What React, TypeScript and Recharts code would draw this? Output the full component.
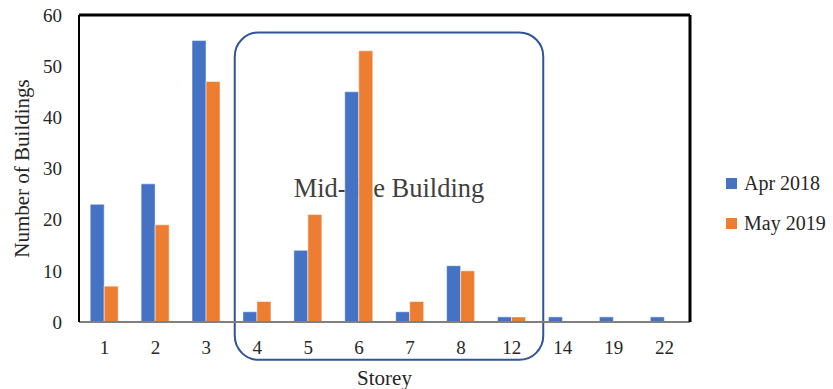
import { Bar, BarChart, Legend, ReferenceArea, XAxis, YAxis } from 'recharts';

// Number of buildings per storey count, two survey dates
const storeys = ['1', '2', '3', '4', '5', '6', '7', '8', '12', '14', '19', '22'];
const apr2018 = [23, 27, 55, 2, 14, 45, 2, 11, 1, 1, 1, 1];
const may2019 = [7, 19, 47, 4, 21, 53, 4, 10, 1, 0, 0, 0];
const yTicks = [0, 10, 20, 30, 40, 50, 60];

const SERIES = [
    { key: 'apr', name: 'Apr 2018', color: '#4472C4' },
    { key: 'may', name: 'May 2019', color: '#ED7D31' },
];

const FONT = '"Liberation Serif", "Times New Roman", serif';
const TEXT = '#262626';

const data = storeys.map((s, i) => ({ storey: s, apr: apr2018[i], may: may2019[i] }));

function MidRiseBox(props: any) {
    const { x, y, width, height } = props;
    const left = x + 3;
    const w = width + 3;
    return (
        <g>
            <rect
                x={left}
                y={y}
                width={w}
                height={height}
                rx={24}
                ry={24}
                fill="none"
                stroke="#2F5597"
                strokeWidth={2}
            />
            <text
                x={left + w / 2}
                y={y + 165}
                textAnchor="middle"
                fontFamily={FONT}
                fontSize={26.5}
                fill="#404040"
            >
                Mid-rise Building
            </text>
        </g>
    );
}

function SeriesLegend() {
    return (
        <div style={{ fontFamily: FONT, fontSize: 20, color: TEXT }}>
            {SERIES.map((s) => (
                <div key={s.key} style={{ display: 'flex', alignItems: 'center', height: 40 }}>
                    <span style={{ display: 'inline-block', width: 11, height: 11, background: s.color, marginRight: 7 }} />
                    <span>{s.name}</span>
                </div>
            ))}
        </div>
    );
}

export default function App() {
    return (
        <div style={{ position: 'absolute', left: 0, top: 0, width: 833, height: 389, background: '#fff' }}>
            <BarChart
                width={833}
                height={389}
                data={data}
                margin={{ top: 14, right: 142, bottom: 0, left: 0 }}
                barCategoryGap="22%"
                barGap={0}
            >
                <XAxis
                    dataKey="storey"
                    tickLine={false}
                    tickSize={6}
                    tickMargin={13}
                    axisLine={{ stroke: '#808080', strokeWidth: 2 }}
                    tick={{ fontSize: 19, fill: TEXT, fontFamily: FONT }}
                    height={67}
                    label={{
                        content: ({ viewBox }: any) => (
                            <text
                                x={viewBox.x + viewBox.width / 2}
                                y={viewBox.y + 63}
                                textAnchor="middle"
                                fontFamily={FONT}
                                fontSize={21}
                                fill={TEXT}
                            >
                                Storey
                            </text>
                        ),
                    }}
                />
                {/* top and right frame lines */}
                <XAxis xAxisId="top" orientation="top" dataKey="storey" height={1} tick={false} tickLine={false}
                    axisLine={{ stroke: '#000', strokeWidth: 3 }} />
                <YAxis
                    width={79}
                    domain={[0, 60]}
                    ticks={yTicks}
                    tickLine={false}
                    tickSize={6}
                    tickMargin={11}
                    axisLine={{ stroke: '#000', strokeWidth: 2 }}
                    tick={{ fontSize: 19, fill: TEXT, fontFamily: FONT }}
                    label={{
                        content: ({ viewBox }: any) => {
                            const cx = 29;
                            const cy = viewBox.y + viewBox.height / 2;
                            return (
                                <text
                                    x={cx}
                                    y={cy}
                                    transform={`rotate(-90, ${cx}, ${cy})`}
                                    textAnchor="middle"
                                    fontFamily={FONT}
                                    fontSize={21}
                                    fill={TEXT}
                                >
                                    Number of Buildings
                                </text>
                            );
                        },
                    }}
                />
                <YAxis yAxisId="right" orientation="right" width={1} domain={[0, 60]} tick={false} tickLine={false}
                    axisLine={{ stroke: '#000', strokeWidth: 3 }} />

                {/* Mid-rise group: storeys 4 to 12 */}
                <ReferenceArea
                    x1="4"
                    x2="12"
                    y1={-7.4}
                    y2={56.6}
                    ifOverflow="visible"
                    shape={MidRiseBox}
                />

                {SERIES.map((s) => (
                    <Bar
                        key={s.key}
                        dataKey={s.key}
                        name={s.name}
                        fill={s.color}
                        stroke="#ffffff"
                        strokeWidth={0.5}
                        isAnimationActive={false}
                    />
                ))}

                <Legend
                    layout="horizontal"
                    align="center"
                    verticalAlign="middle"
                    content={<SeriesLegend />}
                    wrapperStyle={{ position: 'absolute', left: 726, top: 163, width: 110 }}
                />
            </BarChart>
        </div>
    );
}
